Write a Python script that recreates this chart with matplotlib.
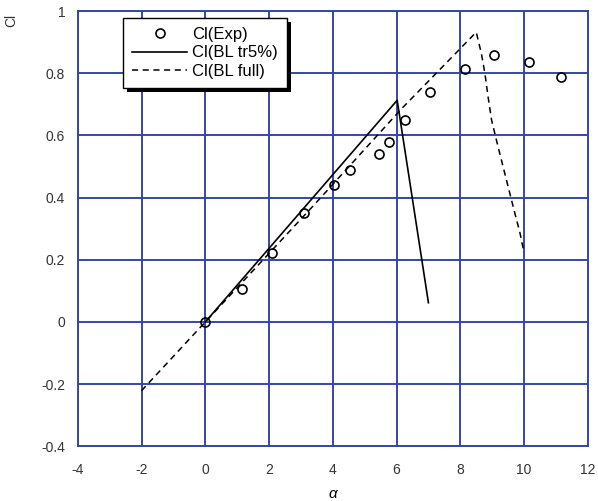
import matplotlib
matplotlib.use("Agg")
import matplotlib.pyplot as plt
from matplotlib.patches import Rectangle

# Experimental data
exp_alpha = [0.0, 1.15, 2.1, 3.1, 4.05, 4.55, 5.45, 5.75, 6.25, 7.05, 8.15, 9.05, 10.15, 11.15]
exp_cl    = [0.0, 0.105, 0.222, 0.35, 0.44, 0.49, 0.54, 0.58, 0.65, 0.74, 0.815, 0.86, 0.835, 0.788]

# BL tr5%
tr_alpha = [0.0, 6.02, 7.0]
tr_cl    = [0.0, 0.713, 0.062]

# BL full
full_alpha = [-2.0, 0.0, 3.4, 6.15, 7.15, 8.5, 8.66, 8.77, 8.87, 8.98, 9.13, 9.34, 9.55, 9.71, 9.87, 10.0]
full_cl    = [-0.221, 0.0, 0.375, 0.685, 0.79, 0.932, 0.864, 0.80, 0.725, 0.65, 0.586, 0.50, 0.415, 0.35, 0.287, 0.223]

xticks = [-4, -2, 0, 2, 4, 6, 8, 10, 12]
yticks = [-0.4, -0.2, 0, 0.2, 0.4, 0.6, 0.8, 1]

plt.rcParams['font.family'] = ['Liberation Sans', 'DejaVu Sans']
blue = '#3646a8'

fig = plt.figure(figsize=(5.98, 5.01), dpi=100)
ax = fig.add_axes([0.130, 0.109, 0.853, 0.869])

ax.plot(full_alpha, full_cl, color='black', linestyle=(0, (4, 3)), linewidth=1.1, label='Cl(BL full)', zorder=3)
ax.plot(tr_alpha, tr_cl, color='black', linestyle='-', linewidth=1.2, label='Cl(BL tr5%)', zorder=3)
ax.plot(exp_alpha, exp_cl, linestyle='none', marker='o', markersize=6.5, markerfacecolor='none',
        markeredgecolor='black', markeredgewidth=1.2, label='Cl(Exp)', zorder=4)

ax.set_xlim(-4, 12)
ax.set_ylim(-0.4, 1)
ax.set_xticks(xticks)
ax.set_yticks(yticks)
ax.set_xticklabels([str(t) for t in xticks])
ax.set_yticklabels(['-0.4', '-0.2', '0', '0.2', '0.4', '0.6', '0.8', '1'])
ax.tick_params(axis='x', length=0, labelsize=10, colors='#333333', pad=12)
ax.tick_params(axis='y', length=0, labelsize=10, colors='#333333', pad=9)
ax.grid(True, color=blue, linewidth=1.4)
for s in ax.spines.values():
    s.set_color(blue)
    s.set_linewidth(1.4)
ax.set_axisbelow(True)

ax.set_xlabel('α', fontsize=11, style='italic', labelpad=7)
fig.text(0.018, 0.972, 'Cl', rotation=90, fontsize=10, ha='center', va='top', color='#333333')

handles, labels = ax.get_legend_handles_labels()
order = [2, 1, 0]
leg = ax.legend([handles[i] for i in order], [labels[i] for i in order],
                loc='upper left', bbox_to_anchor=(0.089, 0.985), fontsize=12,
                frameon=True, fancybox=False, shadow=False, edgecolor='black',
                facecolor='white', framealpha=1.0,
                handlelength=3.3, borderpad=0.55, labelspacing=0.22, handletextpad=0.3,
                borderaxespad=0.0)
leg.get_frame().set_linewidth(1.0)
leg.set_zorder(10)

fig.canvas.draw()
bb = leg.get_window_extent().transformed(fig.transFigure.inverted())
shadow = Rectangle((bb.x0 + 0.007, bb.y0 - 0.008), bb.width, bb.height, transform=fig.transFigure,
                   facecolor='black', edgecolor='none', zorder=9)
ax.add_artist(shadow)
shadow.set_clip_on(False)

fig.savefig('out.png', dpi=100)
